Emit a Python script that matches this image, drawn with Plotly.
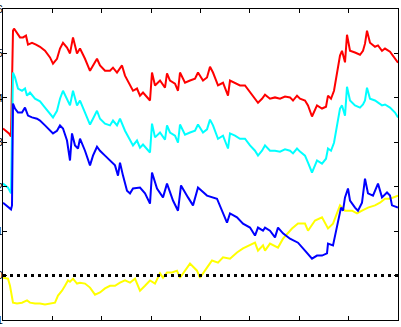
import plotly.graph_objects as go

# x positions (time index, axis spans 0..395 split into 8 tick intervals)
red_x = [0,3,6,8,10,11,14,17,20,23,25,29,33,37,42,47,50,54,57,60,64,67,70,74,77,82,87,90,94,97,102,107,110,114,119,122,127,130,134,137,140,144,147,149,152,157,162,164,167,172,175,177,182,187,192,195,200,204,207,210,215,220,225,227,232,237,242,247,252,255,259,262,267,272,277,282,287,290,294,297,302,305,309,312,314,319,323,325,328,331,334,337,339,342,344,347,352,357,360,362,364,367,372,375,379,382,387,392,395]
red_y = [3.31,3.26,3.20,3.13,5.51,5.56,5.45,5.36,5.36,5.40,5.20,5.24,5.20,5.15,5.06,4.91,4.77,4.88,5.11,5.24,5.13,5.00,5.36,5.00,5.11,4.88,4.61,4.73,4.88,4.73,4.61,4.61,4.68,4.57,4.73,4.50,4.28,4.16,4.21,4.05,4.12,4.01,3.94,4.57,4.28,4.39,4.23,4.55,4.39,4.32,4.16,4.57,4.34,4.39,4.43,4.57,4.39,4.46,4.70,4.57,4.28,4.34,4.05,4.39,4.34,4.28,4.28,4.12,3.98,3.89,3.98,4.07,3.98,4.01,3.98,4.03,4.01,3.94,4.05,3.98,3.94,3.83,3.58,3.71,3.83,3.76,3.80,4.05,3.98,4.16,4.57,4.95,5.06,4.80,5.42,5.06,5.02,4.97,5.06,5.22,5.51,5.24,5.15,5.18,5.06,5.11,5.04,4.88,4.79]

cyan_x = [0,5,8,10,12,15,19,22,24,27,32,37,42,47,50,54,57,60,64,67,70,74,77,82,87,90,94,97,102,107,110,114,117,122,127,130,134,137,140,144,147,149,152,157,162,164,167,172,175,177,182,187,192,195,200,204,207,210,215,220,225,227,232,237,242,247,252,255,259,262,267,272,277,282,287,290,294,297,302,305,309,312,314,319,323,325,328,331,334,337,339,342,344,347,352,357,360,362,364,367,372,375,379,382,387,392,395]
cyan_y = [2.07,1.98,1.85,4.57,4.46,4.21,4.16,4.21,4.05,4.12,3.98,3.92,3.78,3.65,3.56,3.71,3.98,4.16,3.98,3.83,4.16,3.83,3.94,3.65,3.40,3.53,3.71,3.53,3.42,3.38,3.49,3.38,3.53,3.26,3.04,2.93,3.04,2.88,2.95,2.84,2.77,3.42,3.11,3.22,3.06,3.38,3.22,3.15,2.99,3.40,3.17,3.22,3.26,3.40,3.22,3.29,3.51,3.38,3.08,3.15,2.86,3.20,3.15,3.08,3.08,2.93,2.81,2.70,2.81,2.93,2.81,2.81,2.79,2.84,2.81,2.75,2.86,2.79,2.70,2.54,2.32,2.48,2.59,2.52,2.63,2.86,2.81,2.99,3.38,3.76,3.83,3.60,4.25,3.94,3.83,3.78,3.85,3.94,4.23,3.98,3.94,3.89,3.83,3.85,3.78,3.67,3.56]

blue_x = [0,3,6,8,9,10,12,15,19,22,25,29,34,37,42,47,50,54,57,60,64,67,69,72,75,77,82,87,90,94,97,102,107,112,115,117,120,124,127,130,137,142,147,149,154,160,164,170,175,178,185,190,195,204,214,219,224,227,234,240,247,252,255,260,262,267,272,275,280,287,295,302,309,314,319,324,325,330,334,338,340,342,345,347,352,355,359,362,365,370,375,379,384,387,389,395]
blue_y = [1.64,1.58,1.51,1.49,1.58,3.87,3.76,3.67,3.67,3.78,3.60,3.56,3.53,3.49,3.38,3.26,3.20,3.26,3.38,3.31,3.04,2.59,3.20,2.93,2.86,3.08,2.81,2.48,2.70,2.90,2.81,2.70,2.59,2.48,2.25,2.54,2.25,1.91,1.85,1.96,1.98,1.85,1.62,2.32,1.96,1.76,2.07,1.69,1.46,2.03,1.76,1.58,1.98,1.80,1.73,1.46,1.19,1.40,1.31,1.17,1.08,0.90,1.08,1.01,1.08,1.01,0.86,1.08,0.95,0.83,0.74,0.56,0.38,0.45,0.45,0.50,0.72,0.68,1.08,1.53,1.46,1.76,1.96,1.69,1.53,1.46,1.64,2.18,1.85,1.80,2.07,1.76,1.87,1.80,1.58,1.53]

yellow_x = [0,5,7,9,10,14,19,24,27,32,37,42,47,52,55,59,62,65,67,70,74,77,82,87,92,97,102,107,112,117,122,127,132,137,142,147,152,157,160,164,169,174,177,182,187,194,197,204,209,215,220,227,234,240,247,252,255,260,262,267,275,280,289,295,302,305,312,319,325,330,337,342,349,354,359,365,372,377,382,387,395]
yellow_y = [-0.05,-0.07,-0.23,-0.50,-0.61,-0.63,-0.61,-0.56,-0.61,-0.63,-0.63,-0.65,-0.63,-0.61,-0.45,-0.34,-0.23,-0.11,-0.14,-0.07,-0.18,-0.16,-0.18,-0.27,-0.43,-0.38,-0.29,-0.23,-0.23,-0.16,-0.11,-0.16,-0.07,-0.34,-0.23,-0.11,-0.18,0.05,-0.05,0.07,0.07,0.11,-0.05,0.11,0.27,0.11,-0.05,0.18,0.34,0.29,0.41,0.38,0.52,0.61,0.68,0.74,0.56,0.68,0.56,0.72,0.63,0.83,1.06,1.17,1.17,1.01,1.24,1.31,1.06,1.17,1.58,1.46,1.46,1.40,1.46,1.53,1.58,1.64,1.73,1.73,1.80]

zero_x = [0, 395]
zero_y = [0, 0]

fig = go.Figure()
for xs, ys, col in [(red_x, red_y, "#ff0000"), (cyan_x, cyan_y, "#00ffff"),
                    (yellow_x, yellow_y, "#ffff00"), (blue_x, blue_y, "#0000ff")]:
    fig.add_trace(go.Scatter(x=xs, y=ys, mode="lines",
                             line=dict(color=col, width=2), showlegend=False))
fig.add_trace(go.Scatter(x=zero_x, y=zero_y, mode="lines",
                         line=dict(color="black", width=3, dash="3px,4px"),
                         showlegend=False))

axis_common = dict(showline=True, linecolor="black", linewidth=1, mirror="allticks",
                   ticks="inside", ticklen=4, tickcolor="black", showgrid=False,
                   zeroline=False, automargin=False,
                   tickfont=dict(family="Liberation Sans", size=11, color="black"))
fig.update_xaxes(range=[0, 395], tick0=0, dtick=395/8, showticklabels=False, **axis_common)
fig.update_yaxes(range=[-1, 6], tick0=-1, dtick=1, ticklabelstandoff=-3, **axis_common)
fig.update_layout(width=401, height=327, margin=dict(l=3, r=3, t=9, b=7),
                  paper_bgcolor="white", plot_bgcolor="white")
fig.write_html("out.html")
